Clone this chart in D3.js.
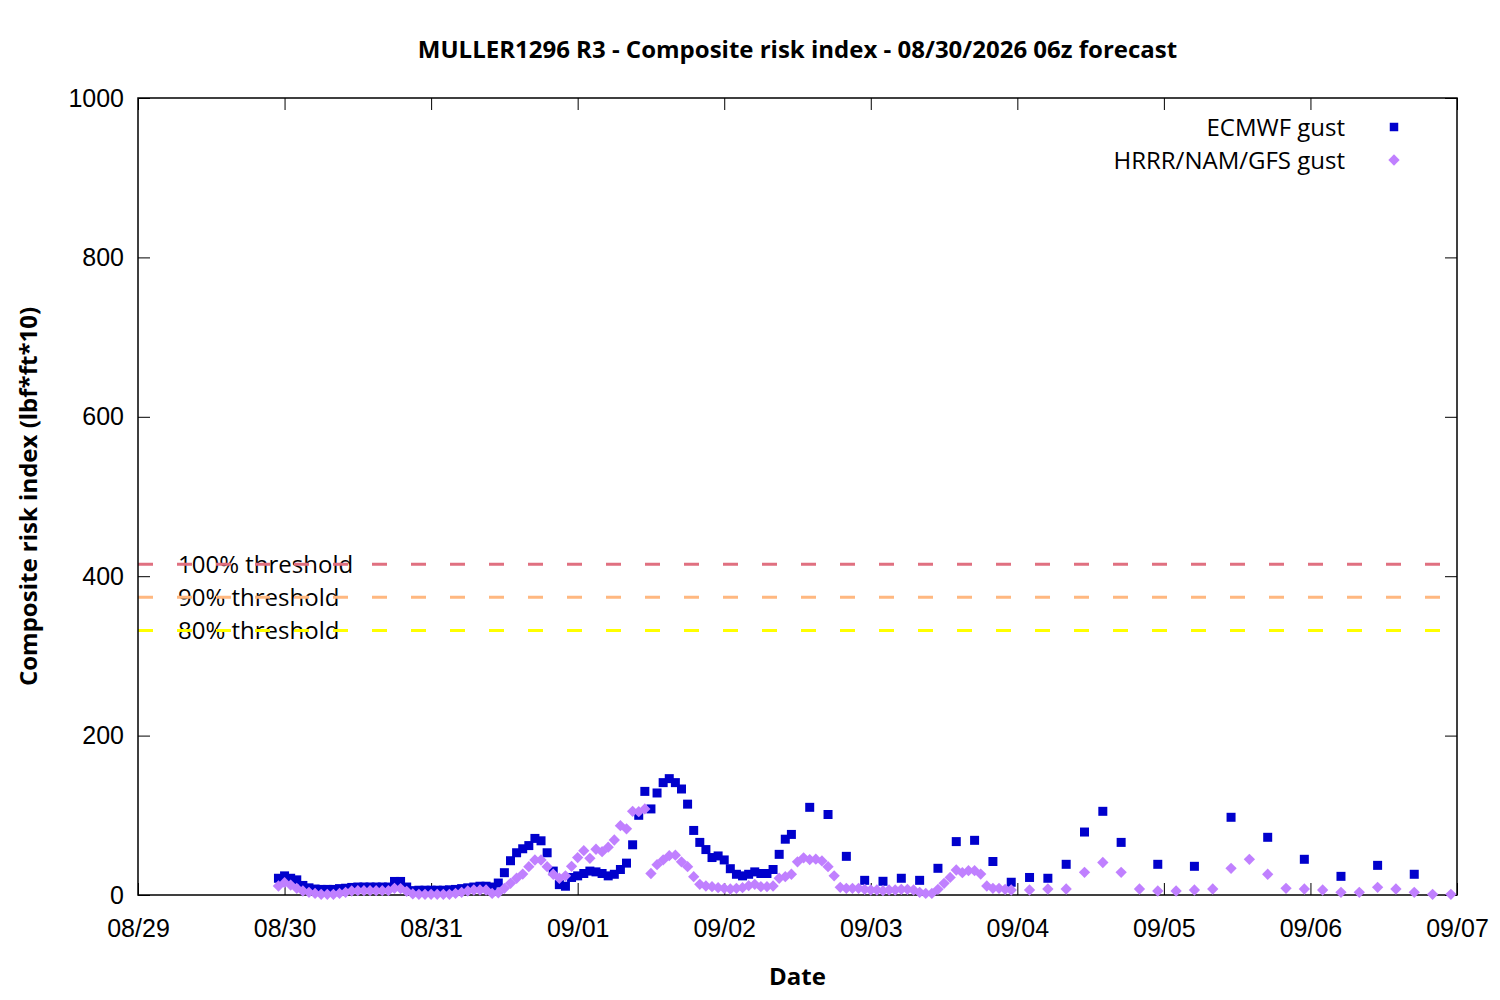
<!DOCTYPE html>
<html>
<head>
<meta charset="utf-8">
<script src="https://cdn.jsdelivr.net/npm/d3@7"></script>
<style>
  body { margin: 0; background: #fff; }
  svg { font-family: "Open Sans", "Noto Sans", sans-serif; }
</style>
</head>
<body>
<div id="chart"></div>
<script>
// Forecast start (hour 0 = 08/30 00z)
const startTime = Date.UTC(2026, 7, 30, 0);

// ECMWF gust: hourly from h-1 to h83, then 3-hourly, then 6-hourly
const ecmwfHourlyStart = -1;
const ecmwfHourly = [
  21, 24, 21, 19, 12, 9, 7.5, 7, 7, 7, 8, 8.5, 9.5, 10, 10, 10, 10, 10, 10, 17,
  17, 10, 5.5, 6, 6, 6, 6, 6, 6.5, 7, 8, 9, 10, 11, 11, 10, 15, 28, 43, 53,
  58, 62, 71, 68, 53, 30, 13, 11, 22, 24, 27, 30, 29, 27, 24, 26, 32, 40, 63, 100,
  130, 108, 128, 141, 146, 141, 133, 114, 81, 66, 57, 47, 49, 44, 33, 26, 24, 26, 29, 27,
  27, 32, 51, 70, 76,
];
const ecmwf3hStart = 86;
const ecmwf3h = [110, 101, 48.5, 18.4, 17.2, 21, 18.4, 33.5, 67, 68.6, 42, 16, 22, 21, 38.5, 79, 105, 66];
const ecmwf6hStart = 143;
const ecmwf6h = [38.5, 36, 97.5, 72.4, 44.8, 23.4, 37.2, 26];

// HRRR/NAM/GFS gust: hourly from h-1 to h119, then 3-hourly
const hrrrHourlyStart = -1;
const hrrrHourly = [
  11.3, 15.5, 12.5, 8.4, 5, 3.3, 2, 0.8, 0.8, 0.8, 2, 3.3, 5, 5.4, 5.4, 5.4, 5.4, 5.4, 5.4, 8.4,
  8, 4.6, 1.3, 0.8, 0.8, 0.8, 0.8, 0.8, 0.8, 2, 3.3, 5, 6.3, 6.3, 6.3, 2, 2.7, 8.4, 14.6, 21,
  26.3, 35.5, 43.9, 43.9, 35.5, 26, 21, 24, 36, 47, 55.6, 46, 57.4, 54.4, 60, 69, 87, 83, 105, 104.5,
  108, 27, 38, 44, 49.3, 50, 41.6, 35.5, 23, 13.4, 11.3, 10.5, 9.2, 8.4, 7.5, 8.4, 9.2, 11.7, 13.4, 10.5,
  10.5, 11.3, 21, 23, 26, 41.6, 46.6, 44.4, 45, 42.7, 35.5, 24, 9.6, 8.4, 8.4, 8.4, 7.1, 6.3, 6.3, 5.4,
  6.3, 6.3, 7.1, 7.1, 6.3, 3.3, 2, 2, 7.1, 14.6, 22, 31.4, 28, 30.5, 30.5, 26.3, 11.3, 8.4, 8.4, 7.1,
  6.3,
];
const hrrr3hStart = 122;
const hrrr3h = [
  6.3, 7.5, 7.5, 28.4, 40.8, 28.4, 7.5, 5, 5, 6.3, 7.5, 33.5, 44.8, 26, 8.4, 7.5,
  6.3, 3.3, 3.3, 9.6, 7.5, 3.3, 0.8, 0.8,
];

// Thresholds
const thresholdLabels = ["100% threshold", "90% threshold", "80% threshold"];
const thresholdValues = [415, 373.5, 332];
const thresholdColors = ["#e07080", "#ffb880", "#ffff00"];

const xDomain = [Date.UTC(2026, 7, 29), Date.UTC(2026, 8, 7)];
const yTicks = [0, 200, 400, 600, 800, 1000];

// turn step runs into {t, v}
function run(start, step, values) {
  return values.map((v, i) => ({
    t: new Date(startTime + (start + i * step) * 3600e3),
    v,
  }));
}
const ecmwf = [
  ...run(ecmwfHourlyStart, 1, ecmwfHourly),
  ...run(ecmwf3hStart, 3, ecmwf3h),
  ...run(ecmwf6hStart, 6, ecmwf6h),
];
const hrrr = [
  ...run(hrrrHourlyStart, 1, hrrrHourly),
  ...run(hrrr3hStart, 3, hrrr3h),
];

// Dimensions
const width = 1500;
const height = 1000;
const marginLeft = 138;
const marginRight = 43;
const marginTop = 98;
const marginBottom = 105;
const tickLen = 12;
const fontSize = 24;
const tickFontSize = 25;

const x = d3
  .scaleUtc()
  .domain(xDomain)
  .range([marginLeft, width - marginRight]);

const y = d3
  .scaleLinear()
  .domain([0, 1000])
  .range([height - marginBottom, marginTop]);

const svg = d3
  .select("#chart")
  .append("svg")
  .attr("width", width)
  .attr("height", height)
  .attr("viewBox", [0, 0, width, height]);

const xTicks = x.ticks(d3.utcDay.every(1));
const fmt = d3.utcFormat("%m/%d");

// Threshold key text (the dashed lines go over it)
svg
  .append("g")
  .selectAll("text")
  .data(thresholdLabels)
  .join("text")
  .attr("x", 178)
  .attr("y", (d, i) => y(thresholdValues[i]) + 9)
  .attr("font-size", fontSize)
  .attr("fill", "#000")
  .text((d) => d);

// Threshold lines
svg
  .append("g")
  .selectAll("line")
  .data(thresholdValues)
  .join("line")
  .attr("x1", marginLeft)
  .attr("x2", width - marginRight)
  .attr("y1", (d) => y(d))
  .attr("y2", (d) => y(d))
  .attr("stroke", (d, i) => thresholdColors[i])
  .attr("stroke-width", 3)
  .attr("stroke-dasharray", "15,24");

// Bottom axis
svg
  .append("g")
  .attr("transform", `translate(0,${height - marginBottom})`)
  .call(d3.axisBottom(x).tickValues(xTicks).tickFormat(fmt).tickSizeInner(-tickLen).tickSizeOuter(0).tickPadding(24))
  .call((g) => g.select(".domain").remove())
  .call((g) => g.selectAll("text").attr("font-size", tickFontSize).attr("fill", "#000"));

// Top ticks
svg
  .append("g")
  .attr("transform", `translate(0,${marginTop})`)
  .call(d3.axisTop(x).tickValues(xTicks).tickFormat("").tickSizeInner(-tickLen).tickSizeOuter(0))
  .call((g) => g.select(".domain").remove());

// Left axis
svg
  .append("g")
  .attr("transform", `translate(${marginLeft},0)`)
  .call(d3.axisLeft(y).tickValues(yTicks).tickFormat(d3.format("d")).tickSizeInner(-tickLen).tickSizeOuter(0).tickPadding(14))
  .call((g) => g.select(".domain").remove())
  .call((g) => g.selectAll("text").attr("font-size", tickFontSize).attr("fill", "#000"));

// Right ticks
svg
  .append("g")
  .attr("transform", `translate(${width - marginRight},0)`)
  .call(d3.axisRight(y).tickValues(yTicks).tickFormat("").tickSizeInner(-tickLen).tickSizeOuter(0))
  .call((g) => g.select(".domain").remove());

// Frame
svg
  .append("rect")
  .attr("x", marginLeft)
  .attr("y", marginTop)
  .attr("width", width - marginLeft - marginRight)
  .attr("height", height - marginTop - marginBottom)
  .attr("fill", "none")
  .attr("stroke", "#000")
  .attr("stroke-width", 1.5);

// Markers
const square = d3.symbol(d3.symbolSquare, 81);
const diamond = d3.symbol(d3.symbolSquare, 64);

svg
  .append("g")
  .selectAll("path")
  .data(ecmwf)
  .join("path")
  .attr("d", square)
  .attr("transform", (d) => `translate(${x(d.t)},${y(d.v)})`)
  .attr("fill", "#0000cc");

svg
  .append("g")
  .selectAll("path")
  .data(hrrr)
  .join("path")
  .attr("d", diamond)
  .attr("transform", (d) => `translate(${x(d.t)},${y(d.v)}) rotate(45)`)
  .attr("fill", "#c080ff");

// Key (top right)
const key = svg.append("g").attr("font-size", fontSize);
key
  .append("text")
  .attr("x", 1345)
  .attr("y", 136)
  .attr("text-anchor", "end")
  .text("ECMWF gust");
key
  .append("path")
  .attr("d", d3.symbol(d3.symbolSquare, 72))
  .attr("transform", "translate(1394,127)")
  .attr("fill", "#0000cc");
key
  .append("text")
  .attr("x", 1345)
  .attr("y", 169)
  .attr("text-anchor", "end")
  .text("HRRR/NAM/GFS gust");
key
  .append("path")
  .attr("d", d3.symbol(d3.symbolSquare, 64))
  .attr("transform", "translate(1394,160) rotate(45)")
  .attr("fill", "#c080ff");

// Title and axis labels
svg
  .append("text")
  .attr("x", (marginLeft + width - marginRight) / 2)
  .attr("y", 58)
  .attr("text-anchor", "middle")
  .attr("font-size", fontSize)
  .attr("font-weight", "bold")
  .text("MULLER1296 R3 - Composite risk index - 08/30/2026 06z forecast");

svg
  .append("text")
  .attr("x", (marginLeft + width - marginRight) / 2)
  .attr("y", 985)
  .attr("text-anchor", "middle")
  .attr("font-size", fontSize)
  .attr("font-weight", "bold")
  .text("Date");

svg
  .append("text")
  .attr("transform", `translate(37,${(marginTop + height - marginBottom) / 2}) rotate(-90)`)
  .attr("text-anchor", "middle")
  .attr("font-size", fontSize)
  .attr("font-weight", "bold")
  .text("Composite risk index (lbf*ft*10)");
</script>
</body>
</html>
